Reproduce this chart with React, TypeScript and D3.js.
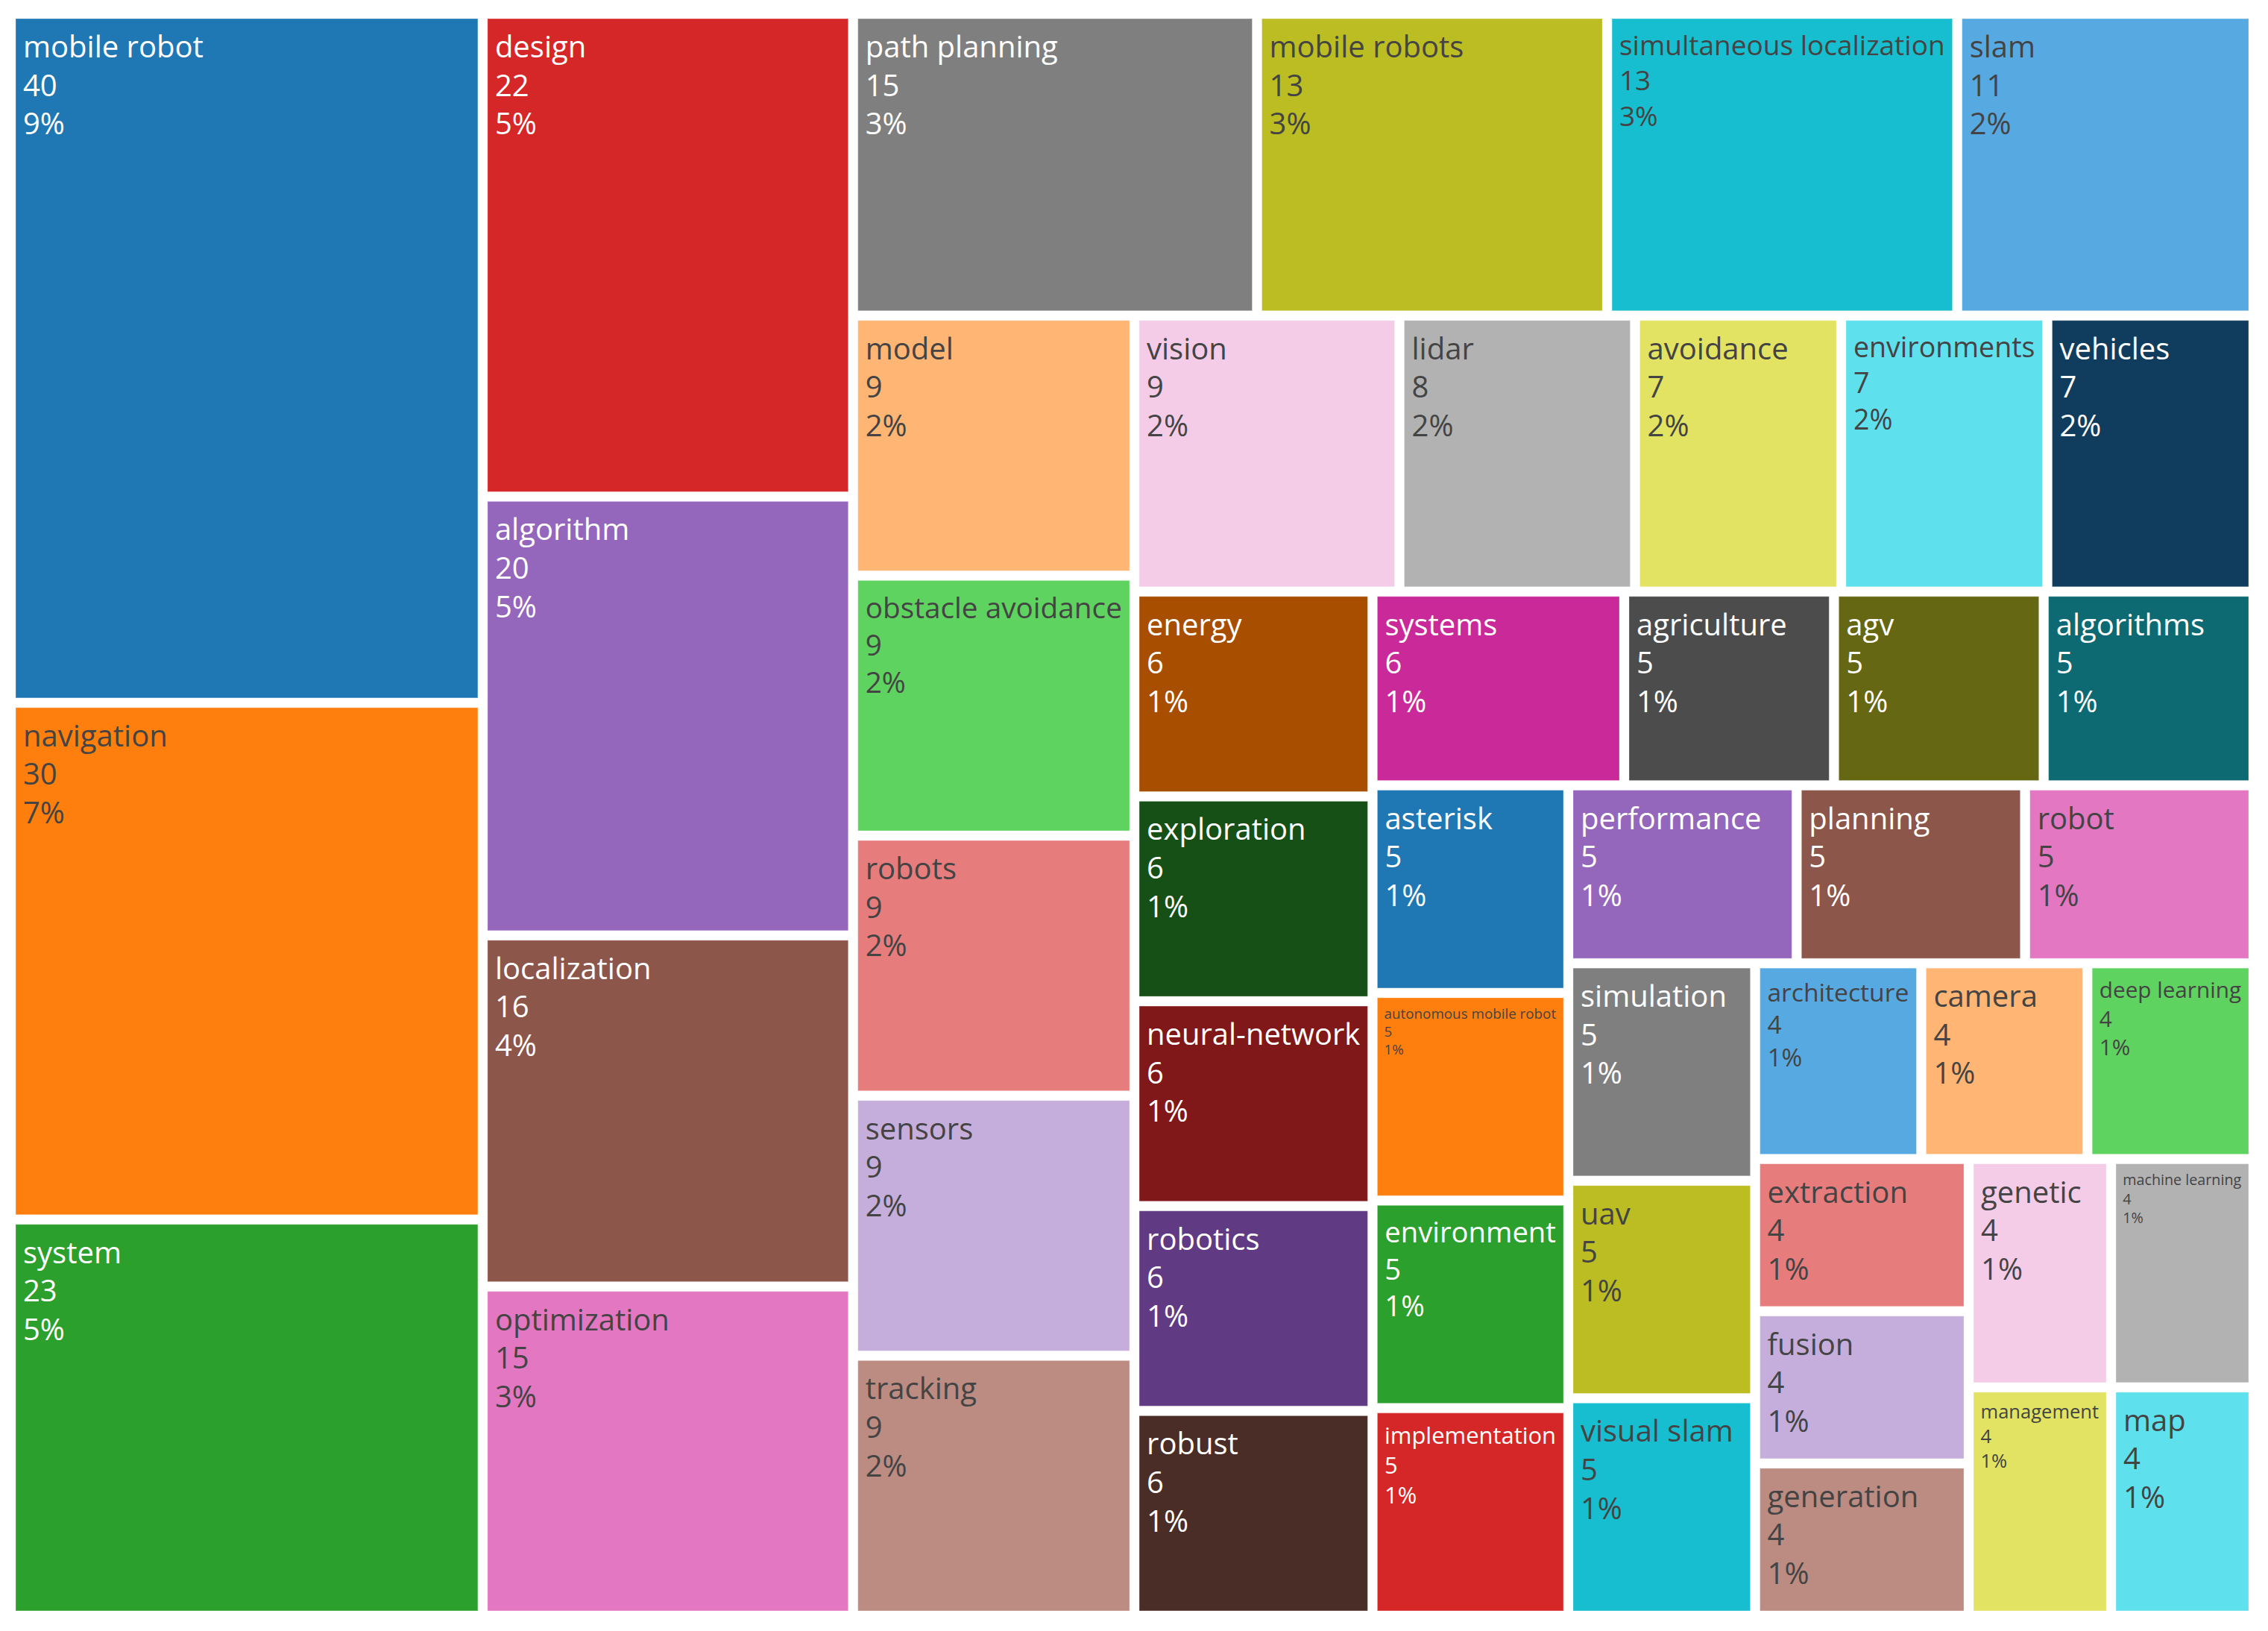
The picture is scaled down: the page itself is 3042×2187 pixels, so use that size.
import React, { useMemo } from 'react';
import * as d3 from 'd3';

// keywords, already in the order plotly sorted them (value desc, ties alphabetical)
const labels = [
  'mobile robot', 'navigation', 'system', 'design', 'algorithm', 'localization',
  'optimization', 'path planning', 'mobile robots', 'simultaneous localization', 'slam',
  'model', 'obstacle avoidance', 'robots', 'sensors', 'tracking', 'vision', 'lidar',
  'avoidance', 'environments', 'vehicles', 'energy', 'exploration', 'neural-network',
  'robotics', 'robust', 'systems', 'agriculture', 'agv', 'algorithms', 'asterisk',
  'autonomous mobile robot', 'environment', 'implementation', 'performance', 'planning',
  'robot', 'simulation', 'uav', 'visual slam', 'architecture', 'camera', 'deep learning',
  'extraction', 'fusion', 'generation', 'genetic', 'machine learning', 'management', 'map',
];
const counts = [
  40, 30, 23, 22, 20, 16,
  15, 15, 13, 13, 11,
  9, 9, 9, 9, 9, 9, 8,
  7, 7, 7, 6, 6, 6,
  6, 6, 6, 5, 5, 5, 5,
  5, 5, 5, 5, 5,
  5, 5, 5, 5, 4, 4, 4,
  4, 4, 4, 4, 4, 4, 4,
];

const W = 3042;
const H = 2187;
const X0 = 21, Y0 = 25, X1 = 3016, Y1 = 2160;
const GAP = 13;
const FONT = '"Open Sans", verdana, arial, sans-serif';
const FS = 40;
const LINE = 51.6;

// plotly-style extended colorway: base, lighter, darker
const base = d3.schemeCategory10;
const palette = [
  ...base,
  ...base.map(c => { const h = d3.hsl(c); h.l = Math.min(1, h.l + 0.2); return h.formatHex(); }),
  ...base.map(c => { const h = d3.hsl(c); h.l = Math.max(0, h.l - 0.2); return h.formatHex(); }),
];

const textColor = (c: string) => {
  const r = d3.rgb(c);
  const b = (r.r * 299 + r.g * 587 + r.b * 114) / 1000;
  return b < 128 ? '#ffffff' : '#444444';
};

let ctx: CanvasRenderingContext2D | null = null;
const measure = (s: string) => {
  if (!ctx) {
    ctx = document.createElement('canvas').getContext('2d');
  }
  if (!ctx) return s.length * FS * 0.5;
  ctx.font = `${FS}px ${FONT}`;
  return ctx.measureText(s).width;
};

export default function App() {
  const total = d3.sum(counts);

  const leaves = useMemo(() => {
    const data = { name: 'root', children: labels.map((l, i) => ({ name: l, value: counts[i], idx: i })) };
    const root = d3.hierarchy<any>(data)
      .sum(d => d.value || 0)
      .sort((a, b) => (b.value || 0) - (a.value || 0));
    d3.treemap<any>()
      .tile(d3.treemapSquarify.ratio(1))
      .size([X1 - X0, Y1 - Y0])
      .paddingInner(GAP)(root);
    return root.leaves() as d3.HierarchyRectangularNode<any>[];
  }, []);

  return (
    <svg width={W} height={H} style={{ position: 'absolute', left: 0, top: 0, background: '#fff' }}>
      <g transform={`translate(${X0},${Y0})`}>
        {leaves.map(d => {
          const i = d.data.idx;
          const fill = palette[i % palette.length];
          const w = d.x1 - d.x0;
          const h = d.y1 - d.y0;
          const lines = [labels[i], String(counts[i]), `${Math.round((counts[i] / total) * 100)}%`];
          const tw = Math.max(...lines.map(measure));
          let s = Math.min(1, (w - 18) / (tw + 2));
          const blockH = 6 + 46 + 2 * LINE + 14;
          s = Math.min(s, (h - 6) / (blockH - 6));
          const tx = d.x0 + 8.5 + 1.5 * s;
          const ty = d.y0 + 6 + 46 * s;
          return (
            <g key={labels[i]}>
              <rect x={d.x0} y={d.y0} width={w} height={h} fill={fill} stroke="#fff" strokeWidth={1} strokeOpacity={0.3} />
              <text
                x={tx}
                y={ty}
                fill={textColor(fill)}
                fontFamily={FONT}
                fontSize={FS * s}
              >
                {lines.map((t, k) => (
                  <tspan key={k} x={tx} y={ty + k * LINE * s}>{t}</tspan>
                ))}
              </text>
            </g>
          );
        })}
      </g>
    </svg>
  );
}
